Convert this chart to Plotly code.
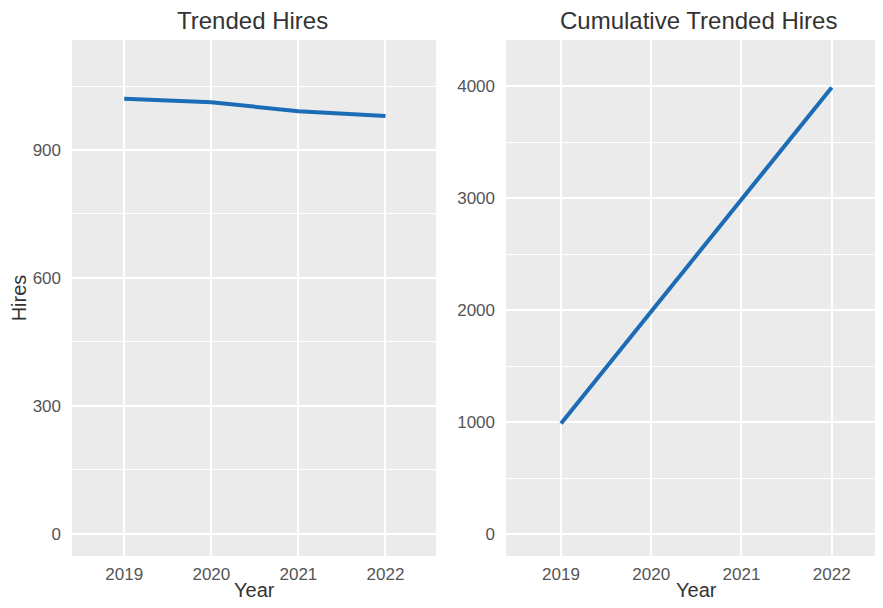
import plotly.graph_objects as go
from plotly.subplots import make_subplots

years = [2019, 2020, 2021, 2022]
hires = [1020, 1012, 991, 980]
cumulative_hires = [988, 1988, 2987, 3987]

left_yticks = [0, 300, 600, 900]
right_yticks = [0, 1000, 2000, 3000, 4000]

line_color = "#1b6cb5"
bg = "#EBEBEB"

fig = make_subplots(rows=1, cols=2, subplot_titles=("Trended Hires", "Cumulative Trended Hires"))

fig.add_trace(go.Scatter(x=years, y=hires, mode="lines",
                         line=dict(color=line_color, width=4), showlegend=False), row=1, col=1)
fig.add_trace(go.Scatter(x=years, y=cumulative_hires, mode="lines",
                         line=dict(color=line_color, width=4), showlegend=False), row=1, col=2)

W, H = 867, 592
ml, mr, mt, mb = 64, 0, 32, 44
pw = W - ml - mr
d1 = [0, 364 / pw]
d2 = [434 / pw, 1]

fig.update_layout(
    width=W, height=H,
    margin=dict(l=ml, r=mr, t=mt, b=mb),
    paper_bgcolor="white",
    plot_bgcolor=bg,
    font=dict(family="Liberation Sans, Arial, sans-serif", color="#555555", size=17),
    xaxis=dict(domain=d1),
    xaxis2=dict(domain=d2),
)

axis_common = dict(showline=False, zeroline=False, gridcolor="white", gridwidth=2,
                   ticks="", tickfont=dict(size=17, color="#555555"))

fig.update_xaxes(range=[2018.4, 2022.58], row=1, col=1)
fig.update_xaxes(range=[2018.39, 2022.48], row=1, col=2)
for c in (1, 2):
    fig.update_xaxes(tickvals=years, ticktext=[str(y) for y in years], ticklabelstandoff=6,
                     automargin=False, row=1, col=c, **axis_common)

fig.update_yaxes(range=[-52, 1158], tickvals=left_yticks, ticklabelstandoff=10,
                 minor=dict(tickvals=[150, 450, 750, 1050], showgrid=True, gridcolor="white", gridwidth=1),
                 title=dict(text="Hires", font=dict(size=20, color="#333333"), standoff=8),
                 automargin=False, row=1, col=1, **axis_common)
fig.update_yaxes(range=[-196, 4411], tickvals=right_yticks, ticklabelstandoff=10,
                 minor=dict(tickvals=[500, 1500, 2500, 3500], showgrid=True, gridcolor="white", gridwidth=1),
                 automargin=False, row=1, col=2, **axis_common)

for i, ann in enumerate(fig.layout.annotations):
    ann.font = dict(size=24, color="#333333")
    ann.yshift = 4
    if i == 1:
        ann.xshift = 4

for dom, xs in ((d1, 0), (d2, 6)):
    fig.add_annotation(text="Year", xref="paper", yref="paper", x=(dom[0] + dom[1]) / 2, y=0,
                       xanchor="center", yanchor="middle", yshift=-34, xshift=xs, showarrow=False,
                       font=dict(size=20, color="#333333"))

fig.write_html("out.html")
